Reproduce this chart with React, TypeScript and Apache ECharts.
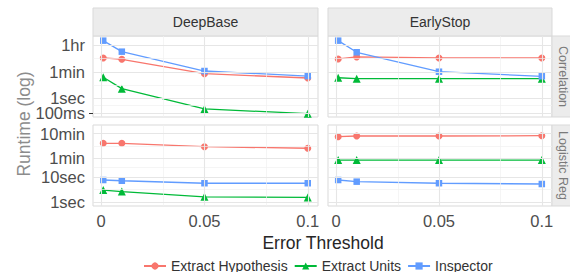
import React, { useEffect, useRef } from 'react';
import * as echarts from 'echarts';

// ---- data (runtime in seconds) ----
const errorThresholds = [0.001, 0.01, 0.05, 0.1];

const corrDeepHyp = [514, 420, 45, 23];
const corrDeepUnits = [25.7, 4.4, 0.19, 0.091];
const corrDeepInsp = [7516, 1364, 68, 31];

const corrEarlyHyp = [440, 600, 514, 514];
const corrEarlyUnits = [24, 20.7, 20.7, 20.7];
const corrEarlyInsp = [7516, 1243, 61, 30];

const logDeepHyp = [240, 240, 175, 151];
const logDeepUnits = [3.0, 2.6, 1.6, 1.5];
const logDeepInsp = [7.7, 7.2, 5.7, 5.7];

const logEarlyHyp = [447, 477, 477, 490];
const logEarlyUnits = [50, 50, 50, 50];
const logEarlyInsp = [7.7, 6.6, 5.7, 5.3];

const seriesNames = ['Extract Hypothesis', 'Extract Units', 'Inspector'];
const columnNames = ['DeepBase', 'EarlyStop'];
const rowNames = ['Correlation', 'Logistic Reg'];

const corrBreaks = [0.1, 1, 60, 3600];
const corrLabels = ['100ms', '1sec', '1min', '1hr'];
const logBreaks = [1, 10, 60, 600];
const logLabels = ['1sec', '10sec', '1min', '10min'];
const xBreaks = [0, 0.05, 0.1];
const xLabels = ['0', '0.05', '0.1'];

const COLORS = ['#F8766D', '#00BA38', '#619CFF'];
const SYMBOLS = ['circle', 'triangle', 'rect'];
const SYMBOL_SIZES = [7, 8, 6.5];
const FONT = "'Liberation Sans', Arial, Helvetica, sans-serif";

function nearestLabel(v: number, vals: number[], labels: string[]) {
  let best = 0;
  for (let i = 1; i < vals.length; i++) {
    if (Math.abs(vals[i] - v) < Math.abs(vals[best] - v)) best = i;
  }
  return labels[best];
}

function buildOption() {
  const grids = [
    { left: 93, top: 36, width: 225, height: 81 },
    { left: 328, top: 36, width: 224, height: 81 },
    { left: 93, top: 125, width: 225, height: 81 },
    { left: 328, top: 125, width: 224, height: 81 },
  ];
  const panels = [
    { row: 0, col: 0, data: [corrDeepHyp, corrDeepUnits, corrDeepInsp] },
    { row: 0, col: 1, data: [corrEarlyHyp, corrEarlyUnits, corrEarlyInsp] },
    { row: 1, col: 0, data: [logDeepHyp, logDeepUnits, logDeepInsp] },
    { row: 1, col: 1, data: [logEarlyHyp, logEarlyUnits, logEarlyInsp] },
  ];
  const rows = [
    { breaks: corrBreaks.map(Math.log10), labels: corrLabels, min: -1.264, max: 4.19 },
    { breaks: logBreaks.map(Math.log10), labels: logLabels, min: -0.171, max: 3.126 },
  ];
  const xMin = -0.00395;
  const xMax = 0.10495;

  const xAxis: any[] = [];
  const yAxis: any[] = [];
  const extraYAxis: any[] = [];
  const series: any[] = [];

  const yAxisDef = (grid: number, r: any, show: boolean, values: number[]) => ({
    type: 'value',
    gridIndex: grid,
    position: 'left',
    offset: 0,
    min: r.min,
    max: r.max,
    axisLine: { show: false },
    splitLine: { show: false },
    axisTick: {
      show,
      customValues: values,
      length: 4,
      lineStyle: { color: '#333333', width: 1 },
    },
    axisLabel: {
      show,
      customValues: values,
      formatter: (v: number) => nearestLabel(v, r.breaks, r.labels),
      margin: 8,
      fontSize: 16.5,
      color: '#4d4d4d',
      fontFamily: FONT,
      showMinLabel: true,
      showMaxLabel: true,
      hideOverlap: false,
    },
  });

  panels.forEach((p, i) => {
    const r = rows[p.row];
    xAxis.push({
      type: 'value',
      gridIndex: i,
      min: xMin,
      max: xMax,
      axisLine: { show: false },
      splitLine: { show: false },
      axisTick: {
        show: p.row === 1,
        customValues: xBreaks,
        length: 4,
        lineStyle: { color: '#333333', width: 1 },
      },
      axisLabel: {
        show: p.row === 1,
        customValues: xBreaks,
        formatter: (v: number) => nearestLabel(v, xBreaks, xLabels),
        margin: 6,
        fontSize: 16.5,
        color: '#4d4d4d',
        fontFamily: FONT,
        showMinLabel: true,
        showMaxLabel: true,
        hideOverlap: false,
      },
    });
    // top row: lowest break (100ms) sits close to 1sec, so it goes on a twin axis
    if (p.row === 0) {
      yAxis.push(yAxisDef(i, r, p.col === 0, r.breaks.slice(1)));
      extraYAxis.push(yAxisDef(i, r, p.col === 0, r.breaks.slice(0, 1)));
    } else {
      yAxis.push(yAxisDef(i, r, p.col === 0, r.breaks));
    }

    // grid lines (major + minor) via markLine
    const minorY: number[] = [];
    for (let k = 0; k < r.breaks.length - 1; k++) minorY.push((r.breaks[k] + r.breaks[k + 1]) / 2);
    const minorX: number[] = [];
    for (let k = 0; k < xBreaks.length - 1; k++) minorX.push((xBreaks[k] + xBreaks[k + 1]) / 2);
    const major = { color: '#e6e6e6', width: 1.1, type: 'solid' };
    const minor = { color: '#f1f1f1', width: 0.7, type: 'solid' };
    const mlData: any[] = [];
    minorY.forEach((v) => mlData.push({ yAxis: v, lineStyle: minor }));
    minorX.forEach((v) => mlData.push({ xAxis: v, lineStyle: minor }));
    r.breaks.forEach((v) => mlData.push({ yAxis: v, lineStyle: major }));
    xBreaks.forEach((v) => mlData.push({ xAxis: v, lineStyle: major }));
    series.push({
      type: 'line',
      name: '_grid' + i,
      xAxisIndex: i,
      yAxisIndex: i,
      data: [],
      z: 1,
      silent: true,
      markLine: {
        silent: true,
        symbol: ['none', 'none'],
        label: { show: false },
        emphasis: { disabled: true },
        lineStyle: { type: 'solid' },
        data: mlData,
      },
    });

    p.data.forEach((vals, s) => {
      series.push({
        type: 'line',
        name: seriesNames[s],
        xAxisIndex: i,
        yAxisIndex: i,
        data: errorThresholds.map((x, k) => [x, Math.log10(vals[k])]),
        symbol: SYMBOLS[s],
        symbolSize: SYMBOL_SIZES[s],
        showAllSymbol: true,
        itemStyle: { color: COLORS[s] },
        lineStyle: { color: COLORS[s], width: 1.3 },
        z: 3,
      });
    });
  });

  const stripFill = '#ececec';
  const stripStroke = '#d9d9d9';
  const graphic: any[] = [];
  [0, 1].forEach((c) => {
    const g = grids[c];
    graphic.push({
      type: 'rect',
      shape: { x: g.left, y: 8, width: g.width, height: 28 },
      style: { fill: stripFill, stroke: stripStroke, lineWidth: 1 },
      silent: true,
      z: 0,
    });
    graphic.push({
      type: 'text',
      x: g.left + g.width / 2,
      y: 22,
      style: {
        text: columnNames[c],
        fill: '#333333',
        font: `14px ${FONT}`,
        align: 'center',
        verticalAlign: 'middle',
      },
      silent: true,
      z: 1,
    });
  });
  [0, 1].forEach((r) => {
    const g = grids[r * 2 + 1];
    graphic.push({
      type: 'rect',
      shape: { x: g.left + g.width, y: g.top, width: 24, height: g.height },
      style: { fill: stripFill, stroke: stripStroke, lineWidth: 1 },
      silent: true,
      z: 0,
    });
    graphic.push({
      type: 'text',
      x: 562.5,
      y: g.top + g.height / 2,
      rotation: -Math.PI / 2,
      style: {
        text: rowNames[r],
        fill: '#7a7a7a',
        font: `12.5px ${FONT}`,
        align: 'center',
        verticalAlign: 'middle',
      },
      silent: true,
      z: 1,
    });
  });
  graphic.push({
    type: 'text',
    x: 24,
    y: 124,
    rotation: Math.PI / 2,
    style: {
      text: 'Runtime (log)',
      fill: '#8c8c8c',
      font: `17.5px ${FONT}`,
      align: 'center',
      verticalAlign: 'middle',
    },
    silent: true,
  });
  graphic.push({
    type: 'text',
    x: 323,
    y: 243,
    style: {
      text: 'Error Threshold',
      fill: '#262626',
      font: `17.5px ${FONT}`,
      align: 'center',
      verticalAlign: 'middle',
    },
    silent: true,
  });

  return {
    animation: false,
    textStyle: { fontFamily: FONT },
    grid: grids.map((g) => ({
      ...g,
      show: true,
      backgroundColor: '#ffffff',
      borderColor: '#d9d9d9',
      borderWidth: 1,
      containLabel: false,
    })),
    xAxis,
    yAxis: [...yAxis, ...extraYAxis],
    series,
    graphic,
    legend: {
      data: seriesNames,
      left: 143,
      top: 259,
      padding: 0,
      itemWidth: 22,
      itemHeight: 9,
      itemGap: 6,
      textStyle: { fontSize: 14, color: '#333333', fontFamily: FONT },
    },
  };
}

export default function App() {
  const ref = useRef<HTMLDivElement>(null);
  useEffect(() => {
    if (!ref.current) return;
    const chart = echarts.init(ref.current, undefined, { renderer: 'svg' });
    chart.setOption(buildOption() as any);
    return () => chart.dispose();
  }, []);
  return (
    <div
      ref={ref}
      style={{ position: 'absolute', left: 0, top: 0, width: 570, height: 272, background: '#ffffff' }}
    />
  );
}
